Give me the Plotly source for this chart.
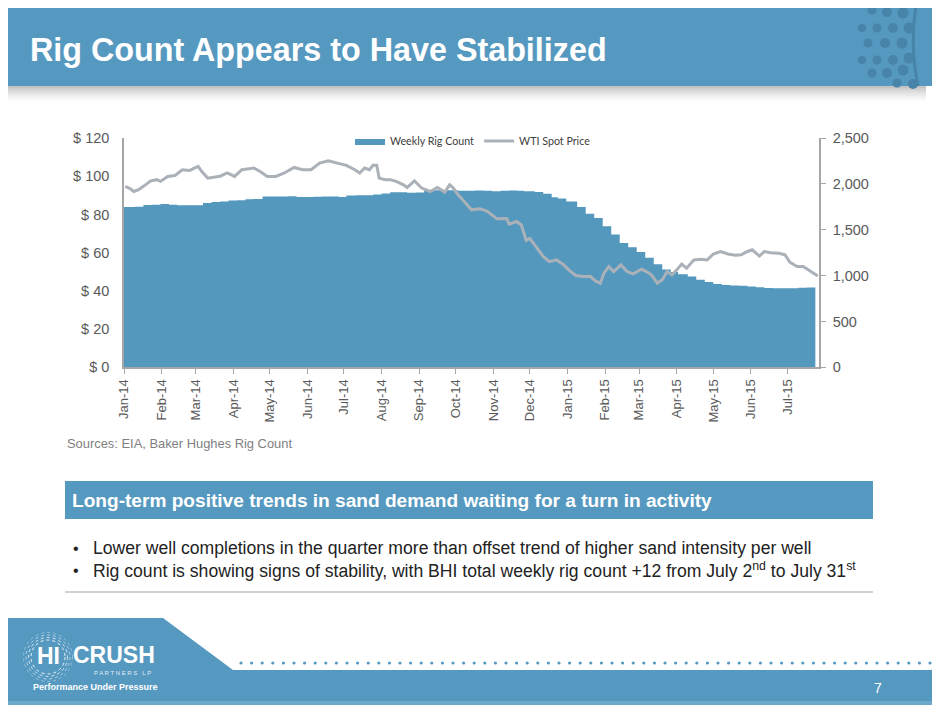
import plotly.graph_objects as go

# ---------------- DATA ----------------
rig_dates = [
    "2014-01-01", "2014-01-10", "2014-01-17", "2014-01-24", "2014-01-31", "2014-02-07", "2014-02-14",
    "2014-02-21", "2014-02-28", "2014-03-07", "2014-03-14", "2014-03-21", "2014-03-28", "2014-04-04",
    "2014-04-11", "2014-04-17", "2014-04-25", "2014-05-02", "2014-05-09", "2014-05-16", "2014-05-23",
    "2014-05-30", "2014-06-06", "2014-06-13", "2014-06-20", "2014-06-27", "2014-07-03", "2014-07-11",
    "2014-07-18", "2014-07-25", "2014-08-01", "2014-08-08", "2014-08-15", "2014-08-22", "2014-08-29",
    "2014-09-05", "2014-09-12", "2014-09-19", "2014-09-26", "2014-10-03", "2014-10-10", "2014-10-17",
    "2014-10-24", "2014-10-31", "2014-11-07", "2014-11-14", "2014-11-21", "2014-11-26", "2014-12-05",
    "2014-12-12", "2014-12-19", "2014-12-24", "2014-12-31", "2015-01-09", "2015-01-16", "2015-01-23",
    "2015-01-30", "2015-02-06", "2015-02-13", "2015-02-20", "2015-02-27", "2015-03-06", "2015-03-13",
    "2015-03-20", "2015-03-27", "2015-04-02", "2015-04-10", "2015-04-17", "2015-04-24", "2015-05-01",
    "2015-05-08", "2015-05-15", "2015-05-22", "2015-05-29", "2015-06-05", "2015-06-12", "2015-06-19",
    "2015-06-26", "2015-07-02", "2015-07-10", "2015-07-17", "2015-07-24",
]
rig_counts = [
    1748, 1750, 1770, 1772, 1781, 1772, 1768,
    1768, 1768, 1791, 1803, 1807, 1818, 1822,
    1833, 1835, 1861, 1862, 1862, 1864, 1858,
    1858, 1860, 1862, 1862, 1858, 1874, 1875,
    1876, 1884, 1895, 1908, 1908, 1902, 1906,
    1924, 1930, 1930, 1929, 1926, 1926, 1927,
    1926, 1920, 1925, 1928, 1926, 1920, 1912,
    1892, 1855, 1840, 1808, 1748, 1675, 1628,
    1538, 1447, 1355, 1310, 1258, 1195, 1123,
    1066, 1040, 1015, 990, 955, 930, 907,
    898, 892, 888, 880, 874, 865, 861,
    861, 863, 866, 871, 876,
]

wti_dates = [
    "2014-01-02", "2014-01-06", "2014-01-09", "2014-01-13", "2014-01-17", "2014-01-23", "2014-01-28",
    "2014-01-31", "2014-02-06", "2014-02-12", "2014-02-18", "2014-02-24", "2014-03-03", "2014-03-06",
    "2014-03-11", "2014-03-18", "2014-03-21", "2014-03-27", "2014-04-02", "2014-04-08", "2014-04-14",
    "2014-04-18", "2014-04-23", "2014-04-29", "2014-05-06", "2014-05-13", "2014-05-21", "2014-05-28",
    "2014-06-04", "2014-06-11", "2014-06-18", "2014-06-25", "2014-07-03", "2014-07-10", "2014-07-14",
    "2014-07-18", "2014-07-22", "2014-07-25", "2014-07-28", "2014-07-30", "2014-08-04", "2014-08-08",
    "2014-08-13", "2014-08-19", "2014-08-22", "2014-08-28", "2014-09-03", "2014-09-10", "2014-09-16",
    "2014-09-22", "2014-09-26", "2014-09-29", "2014-10-03", "2014-10-08", "2014-10-14", "2014-10-21",
    "2014-10-27", "2014-11-04", "2014-11-12", "2014-11-14", "2014-11-20", "2014-11-24", "2014-11-28",
    "2014-12-01", "2014-12-05", "2014-12-12", "2014-12-17", "2014-12-23", "2014-12-29", "2015-01-02",
    "2015-01-08", "2015-01-14", "2015-01-20", "2015-01-24", "2015-01-28", "2015-01-31", "2015-02-04",
    "2015-02-08", "2015-02-14", "2015-02-19", "2015-02-24", "2015-03-03", "2015-03-07", "2015-03-11",
    "2015-03-16", "2015-03-20", "2015-03-24", "2015-03-28", "2015-04-01", "2015-04-05", "2015-04-09",
    "2015-04-15", "2015-04-21", "2015-04-26", "2015-05-01", "2015-05-07", "2015-05-13", "2015-05-19",
    "2015-05-24", "2015-05-29", "2015-06-02", "2015-06-08", "2015-06-12", "2015-06-17", "2015-06-24",
    "2015-06-29", "2015-07-03", "2015-07-09", "2015-07-14", "2015-07-18", "2015-07-22", "2015-07-26",
]
wti_prices = [
    94.7, 93.5, 92.0, 92.9, 94.7, 97.6, 98.2,
    97.3, 99.9, 100.4, 103.4, 103.0, 105.1, 102.5,
    99.0, 99.9, 100.0, 101.7, 99.9, 103.4, 103.9,
    104.3, 102.5, 99.9, 99.9, 101.7, 104.6, 103.4,
    103.4, 106.9, 108.1, 106.9, 105.7, 103.4, 101.7,
    104.3, 103.4, 105.7, 105.7, 99.0, 98.2, 98.2,
    97.3, 95.5, 94.1, 97.6, 93.8, 92.0, 94.1,
    91.7, 95.5, 93.8, 90.3, 86.8, 82.4, 83.0,
    81.6, 77.7, 77.8, 74.9, 76.3, 74.5, 66.5,
    67.5, 64.1, 58.0, 55.3, 56.2, 53.6, 51.0,
    48.0, 47.5, 47.5, 45.2, 44.0, 49.3, 52.7,
    50.1, 53.6, 50.1, 48.9, 51.3, 50.1, 48.4,
    44.0, 45.8, 50.1, 48.4, 51.0, 54.0, 51.9,
    56.2, 56.6, 56.2, 59.3, 60.6, 59.3, 58.6,
    58.9, 60.6, 61.5, 58.2, 60.6, 60.0, 59.7,
    58.9, 55.0, 52.7, 52.7, 51.0, 49.2, 47.8,
]

month_ticks = [
    "2014-01-01", "2014-02-01", "2014-03-01", "2014-04-01", "2014-05-01", "2014-06-01", "2014-07-01",
    "2014-08-01", "2014-09-01", "2014-10-01", "2014-11-01", "2014-12-01", "2015-01-01", "2015-02-01",
    "2015-03-01", "2015-04-01", "2015-05-01", "2015-06-01", "2015-07-01",
]
month_labels = [
    "Jan-14", "Feb-14", "Mar-14", "Apr-14", "May-14", "Jun-14", "Jul-14", "Aug-14", "Sep-14",
    "Oct-14", "Nov-14", "Dec-14", "Jan-15", "Feb-15", "Mar-15", "Apr-15", "May-15", "Jun-15", "Jul-15",
]
price_ticks = [0, 20, 40, 60, 80, 100, 120]
price_labels = ["$ 0", "$ 20", "$ 40", "$ 60", "$ 80", "$ 100", "$ 120"]
rig_ticks = [0, 500, 1000, 1500, 2000, 2500]
rig_labels = ["0", "500", "1,000", "1,500", "2,000", "2,500"]

assert len(rig_dates) == len(rig_counts)
assert len(wti_dates) == len(wti_prices)

# ---------------- STYLE ----------------
W, H = 940, 705
OFF = 8  # the page shows the figure with an 8px body margin; slide positions are window pixels
BLUE = "#5699C0"
AREA = "#5598BE"
DOT = "#4883A9"
GRAY_LINE = "#AAB1B8"
AX = "#A6A6A6"
TICK = "#595959"
FONT = "Liberation Sans, Arial, sans-serif"


def px(x):
    return (x - OFF) / W


def py(y):
    return 1 - (y - OFF) / H


plot_l, plot_r, plot_t, plot_b = 124, 819, 138, 367.3

fig = go.Figure()

fig.add_trace(go.Scatter(
    x=rig_dates, y=rig_counts, name="Weekly Rig Count", mode="lines",
    line=dict(width=0, shape="hv", color=AREA), fill="tozeroy", fillcolor=AREA,
    yaxis="y", hoverinfo="skip",
))
fig.add_trace(go.Scatter(
    x=wti_dates, y=wti_prices, name="WTI Spot Price", mode="lines",
    line=dict(width=3, color=GRAY_LINE), yaxis="y2", hoverinfo="skip",
))

shapes = []
annotations = []

# header band + shadow
for i in range(8):
    shapes.append(dict(type="rect", xref="paper", yref="paper", layer="below",
                       x0=px(0), x1=px(926), y0=py(86 + i * 2 + 2), y1=py(86 + i * 2),
                       fillcolor="rgba(60,60,60,%.3f)" % (0.30 * (1 - i / 8) ** 1.5), line_width=0))
shapes.append(dict(type="rect", xref="paper", yref="paper", layer="below",
                   x0=px(0), x1=px(960), y0=py(86), y1=py(0), fillcolor=BLUE, line_width=0))

# header dots
dots = [
    (897, 0, 4.5), (913, 2, 5.5),
    (872, 10, 4.5), (887, 12, 5), (903, 13, 5.5),
    (862, 28, 4), (877, 28, 4.5), (893, 28, 5), (909, 28, 5.5),
    (868, 43, 4.5), (885, 43, 5), (902, 43, 5.5),
    (862, 60, 4), (877, 60, 4.5), (893, 60, 5), (909, 58, 5.5),
    (872, 73, 4.5), (887, 73, 5), (903, 70, 5.5),
    (897, 83, 4.5), (913, 84, 5),
]
for cx, cy, r in dots:
    shapes.append(dict(type="circle", xref="paper", yref="paper", layer="above",
                       x0=px(cx - r), x1=px(cx + r), y0=py(cy + r), y1=py(cy - r),
                       fillcolor=DOT, line_width=0))
shapes.append(dict(type="path", xref="paper", yref="paper", layer="above",
                   path="M %f,%f Q %f,%f %f,%f" % (px(917), py(0), px(909), py(43), px(918), py(86)),
                   line=dict(color=DOT, width=3)))
shapes.append(dict(type="path", xref="paper", yref="paper", layer="above",
                   path="M %f,%f Q %f,%f %f,%f L %f,%f L %f,%f Z" % (
                       px(919), py(0), px(911), py(43), px(920), py(86), px(960), py(86), px(960), py(0)),
                   fillcolor=BLUE, line_width=0))

# blue statement box
shapes.append(dict(type="rect", xref="paper", yref="paper", layer="below",
                   x0=px(65), x1=px(873), y0=py(519), y1=py(481), fillcolor=BLUE, line_width=0))
# separator line
shapes.append(dict(type="line", xref="paper", yref="paper", layer="below",
                   x0=px(65), x1=px(873), y0=py(592), y1=py(592),
                   line=dict(color="#D0D0D0", width=2)))

# footer
shapes.append(dict(type="path", xref="paper", yref="paper", layer="below",
                   path="M %f,%f L %f,%f L %f,%f L %f,%f L %f,%f L %f,%f Z" % (
                       px(0), py(618), px(163), py(618), px(233), py(670),
                       px(960), py(670), px(960), py(720), px(0), py(720)),
                   fillcolor=BLUE, line_width=0))
shapes.append(dict(type="rect", xref="paper", yref="paper", layer="below",
                   x0=px(0), x1=px(960), y0=py(720), y1=py(701), fillcolor="#6EA9CB", line_width=0))
for k in range(66):
    cx = 241 + k * 10.6
    shapes.append(dict(type="circle", xref="paper", yref="paper", layer="below",
                       x0=px(cx - 1.6), x1=px(cx + 1.6), y0=py(663 + 1.6), y1=py(663 - 1.6),
                       fillcolor=BLUE, line_width=0))

# logo sunburst rings
for rr, op in [(17, 0.9), (19.5, 0.75), (22, 0.55), (24.5, 0.35)]:
    shapes.append(dict(type="circle", xref="paper", yref="paper", layer="above",
                       x0=px(48 - rr), x1=px(48 + rr), y0=py(657 + rr), y1=py(657 - rr),
                       line=dict(color="rgba(255,255,255,%.2f)" % op, width=1, dash="dot")))

# ---- texts ----
annotations.append(dict(text="<b>Rig Count Appears to Have Stabilized</b>", x=px(28), y=py(50),
                        xref="paper", yref="paper", xanchor="left", yanchor="middle", showarrow=False,
                        font=dict(family=FONT, size=32.3, color="white")))
annotations.append(dict(text="Sources: EIA, Baker Hughes Rig Count", x=px(65), y=py(443),
                        xref="paper", yref="paper", xanchor="left", yanchor="middle", showarrow=False,
                        font=dict(family=FONT, size=12.9, color="#808080")))
annotations.append(dict(text="<b>Long-term positive trends in sand demand waiting for a turn in activity</b>",
                        x=px(70), y=py(500), xref="paper", yref="paper", xanchor="left", yanchor="middle",
                        showarrow=False, font=dict(family=FONT, size=19.1, color="white")))
bullets = [
    "Lower well completions in the quarter more than offset trend of higher sand intensity per well",
    "Rig count is showing signs of stability, with BHI total weekly rig count +12 from July 2<sup>nd</sup> to July 31<sup>st</sup>",
]
for i, b in enumerate(bullets):
    yy = 548 + i * 22
    annotations.append(dict(text="•", x=px(71), y=py(yy), xref="paper", yref="paper",
                            xanchor="left", yanchor="middle", showarrow=False,
                            font=dict(family=FONT, size=16, color="#222222")))
    annotations.append(dict(text=b, x=px(91), y=py(yy), xref="paper", yref="paper",
                            xanchor="left", yanchor="middle", showarrow=False,
                            font=dict(family=FONT, size=17.6, color="#222222")))

# logo text
annotations.append(dict(text="<b>HI</b>", x=px(48), y=py(656), xref="paper", yref="paper",
                        xanchor="center", yanchor="middle", showarrow=False,
                        font=dict(family=FONT, size=23, color="white")))
annotations.append(dict(text="<b>CRUSH</b>", x=px(71), y=py(655), xref="paper", yref="paper",
                        xanchor="left", yanchor="middle", showarrow=False,
                        font=dict(family=FONT, size=23, color="white")))
annotations.append(dict(text="P A R T N E R S   L P", x=px(153), y=py(673), xref="paper", yref="paper",
                        xanchor="right", yanchor="middle", showarrow=False,
                        font=dict(family=FONT, size=6, color="rgba(255,255,255,0.85)")))
annotations.append(dict(text="<b>Performance Under Pressure</b>", x=px(95), y=py(687), xref="paper",
                        yref="paper", xanchor="center", yanchor="middle", showarrow=False,
                        font=dict(family=FONT, size=9, color="white")))
annotations.append(dict(text="7", x=px(878), y=py(688), xref="paper", yref="paper",
                        xanchor="center", yanchor="middle", showarrow=False,
                        font=dict(family=FONT, size=14, color="white")))

fig.update_layout(
    width=W, height=H, autosize=False,
    margin=dict(l=0, r=0, t=0, b=0, pad=0),
    paper_bgcolor="white", plot_bgcolor="rgba(0,0,0,0)",
    font=dict(family=FONT, size=13, color=TICK),
    showlegend=True,
    legend=dict(orientation="h", x=px(350), y=py(141), xanchor="left", yanchor="middle",
                font=dict(family="Lato, Open Sans, sans-serif", size=10.7, color="#404040"),
                itemwidth=30, bgcolor="rgba(0,0,0,0)", traceorder="normal"),
    xaxis=dict(
        domain=[px(plot_l), px(plot_r)], type="date",
        range=["2014-01-01", "2015-07-27"],
        tickmode="array", tickvals=month_ticks, ticktext=month_labels, tickangle=-90,
        ticks="outside", ticklen=5, tickcolor=AX, showline=True, linecolor=AX, linewidth=1.5,
        showgrid=False, zeroline=False, tickfont=dict(family=FONT, size=13, color=TICK),
        anchor="y", fixedrange=True, automargin=False,
    ),
    yaxis=dict(
        domain=[py(plot_b), py(plot_t)], side="right", range=[0, 2500],
        tickmode="array", tickvals=rig_ticks, ticktext=rig_labels,
        ticks="outside", ticklen=5, tickcolor=AX, showline=True, linecolor=AX, linewidth=1.5,
        ticklabelstandoff=4,
        showgrid=False, zeroline=False, tickfont=dict(family=FONT, size=14.5, color=TICK),
        anchor="x", fixedrange=True, automargin=False,
    ),
    yaxis2=dict(
        domain=[py(plot_b), py(plot_t)], side="left", overlaying="y", range=[0, 120],
        tickmode="array", tickvals=price_ticks, ticktext=price_labels,
        ticks="", showline=True, linecolor=AX, linewidth=1.5, ticklabelstandoff=10,
        showgrid=False, zeroline=False, tickfont=dict(family=FONT, size=14.5, color=TICK),
        anchor="x", fixedrange=True, automargin=False,
    ),
    shapes=shapes, annotations=annotations,
)

fig.write_html("out.html", config={"displayModeBar": False})
